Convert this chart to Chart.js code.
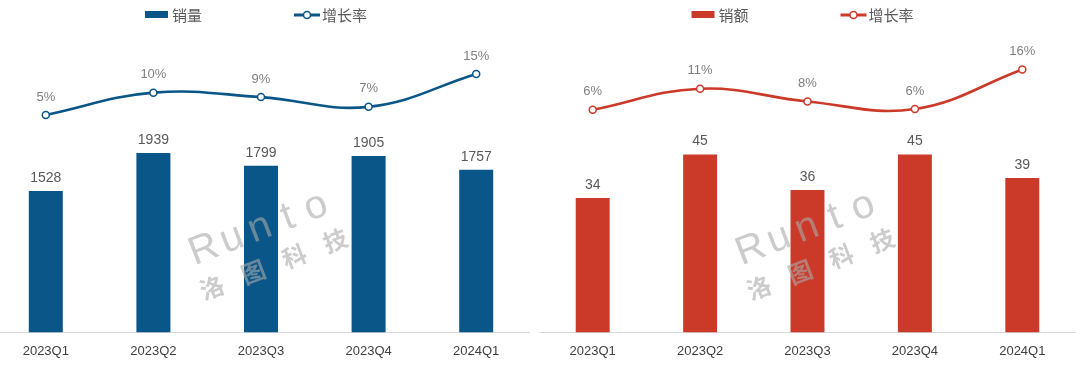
<!DOCTYPE html>
<html>
<head>
<meta charset="utf-8">
<script src="https://cdn.jsdelivr.net/npm/chart.js@4.4.1/dist/chart.umd.min.js"></script>
<style>
  html,body{margin:0;padding:0;background:#fff;overflow:hidden}
  #wrap{position:relative;width:1080px;height:368px;overflow:hidden}
  .box{position:absolute;top:0;height:368px}
  #boxL{left:-8px;width:538px}
  #boxR{left:539px;width:537px}
</style>
</head>
<body>
<div id="wrap">
  <div class="box" id="boxL"><canvas id="cL" width="538" height="368"></canvas></div>
  <div class="box" id="boxR"><canvas id="cR" width="537" height="368"></canvas></div>
</div>
<script>
// ---- data ----
const quarters = ['2023Q1','2023Q2','2023Q3','2023Q4','2024Q1'];
const volume = [1528, 1939, 1799, 1905, 1757];        // 销量
const volumeGrowth = [4.9, 10.4, 9.3, 6.9, 15.0];     // 增长率 %
const revenue = [34, 45, 36, 45, 39];                 // 销额
const revenueGrowth = [6.0, 11.3, 8.1, 6.2, 16.1];    // 增长率 %

const NUM_FONT = '"Liberation Sans", "Noto Sans CJK SC", sans-serif';
const CJK_FONT = '"Noto Sans CJK SC", "Liberation Sans", sans-serif';

// value labels above bars / points
const labelPlugin = {
  id: 'valueLabels',
  afterDatasetsDraw(chart){
    const ctx = chart.ctx;
    ctx.save();
    ctx.textAlign = 'center';
    ctx.textBaseline = 'middle';
    chart.data.datasets.forEach((ds, i) => {
      const meta = chart.getDatasetMeta(i);
      meta.data.forEach((el, j) => {
        const v = ds.data[j];
        if (ds.type === 'bar'){
          ctx.font = '14px ' + NUM_FONT;
          ctx.fillStyle = '#595959';
          ctx.fillText(String(v), el.x, el.y - 13);
        } else {
          ctx.font = '13px ' + NUM_FONT;
          ctx.fillStyle = '#7f7f7f';
          ctx.fillText(Math.round(v) + '%', el.x, el.y - 18);
        }
      });
    });
    ctx.restore();
  }
};

// faint company watermark
const watermarkPlugin = {
  id: 'watermark',
  afterDatasetsDraw(chart){
    const ctx = chart.ctx;
    ctx.save();
    ctx.translate(chart.chartArea.left + 212, 250);
    ctx.rotate(-21 * Math.PI / 180);
    ctx.fillStyle = 'rgba(170,170,170,0.6)';
    ctx.textAlign = 'center';
    ctx.textBaseline = 'middle';
    ctx.font = '40px ' + NUM_FONT;
    'Runto'.split('').forEach((c, i) => ctx.fillText(c, i * 30, 0));
    ctx.font = 'bold 24px ' + CJK_FONT;
    '洛图科技'.split('').forEach((c, i) => ctx.fillText(c, -6 + i * 44, 38));
    ctx.restore();
  }
};

// legend drawn at top centre
const legendPlugin = {
  id: 'topLegend',
  afterDraw(chart){
    const ctx = chart.ctx;
    const [bar, line] = chart.data.datasets;
    ctx.save();
    ctx.font = '15px ' + CJK_FONT;
    const w1 = ctx.measureText(bar.label).width;
    const w2 = ctx.measureText(line.label).width;
    const total = 23 + 4 + w1 + 92 + 26 + 2 + w2;
    let x = chart.width / 2 - 5 - total / 2;
    const y = 15;
    ctx.fillStyle = bar.backgroundColor;
    ctx.fillRect(x, y - 4, 23, 7);
    x += 27;
    ctx.fillStyle = '#595959';
    ctx.textBaseline = 'middle';
    ctx.fillText(bar.label, x, y);
    x += w1 + 92;
    ctx.strokeStyle = line.borderColor;
    ctx.lineWidth = 3;
    ctx.beginPath(); ctx.moveTo(x, y); ctx.lineTo(x + 26, y); ctx.stroke();
    ctx.beginPath(); ctx.arc(x + 13, y, 3.5, 0, Math.PI * 2);
    ctx.fillStyle = '#fff'; ctx.fill();
    ctx.lineWidth = 1.5; ctx.stroke();
    x += 28;
    ctx.fillStyle = '#595959';
    ctx.fillText(line.label, x, y);
    ctx.restore();
  }
};

function makeChart(id, barLabel, bars, growth, color, yMax, y2Min, y2Max){
  return new Chart(document.getElementById(id), {
    data: {
      labels: quarters,
      datasets: [
        {
          type: 'bar', label: barLabel, data: bars, yAxisID: 'y',
          backgroundColor: color, borderWidth: 0,
          categoryPercentage: 1, barPercentage: 0.316, order: 2
        },
        {
          type: 'line', label: '增长率', data: growth, yAxisID: 'y2',
          borderColor: color, borderWidth: 2.6, tension: 0.4,
          pointRadius: 3.5, pointBackgroundColor: '#fff',
          pointBorderColor: color, pointBorderWidth: 1.5, order: 1
        }
      ]
    },
    options: {
      responsive: false, animation: false,
      layout: { autoPadding: false, padding: { top: 46, bottom: -2, left: 0, right: 0 } },
      plugins: { legend: { display: false }, tooltip: { enabled: false } },
      scales: {
        x: {
          grid: { display: false, drawTicks: false },
          border: { display: true, color: '#d9d9d9', width: 1 },
          ticks: { color: '#404040', padding: 11, font: { size: 13, family: NUM_FONT } }
        },
        y: { display: false, min: 0, max: yMax },
        y2: { display: false, min: y2Min, max: y2Max }
      }
    },
    plugins: [watermarkPlugin, labelPlugin, legendPlugin]
  });
}

makeChart('cL', '销量', volume, volumeGrowth, '#0a5688', 3094, -48.7, 21.9);
makeChart('cR', '销额', revenue, revenueGrowth, '#cb3a29', 72.4, -49.8, 22);
</script>
</body>
</html>
